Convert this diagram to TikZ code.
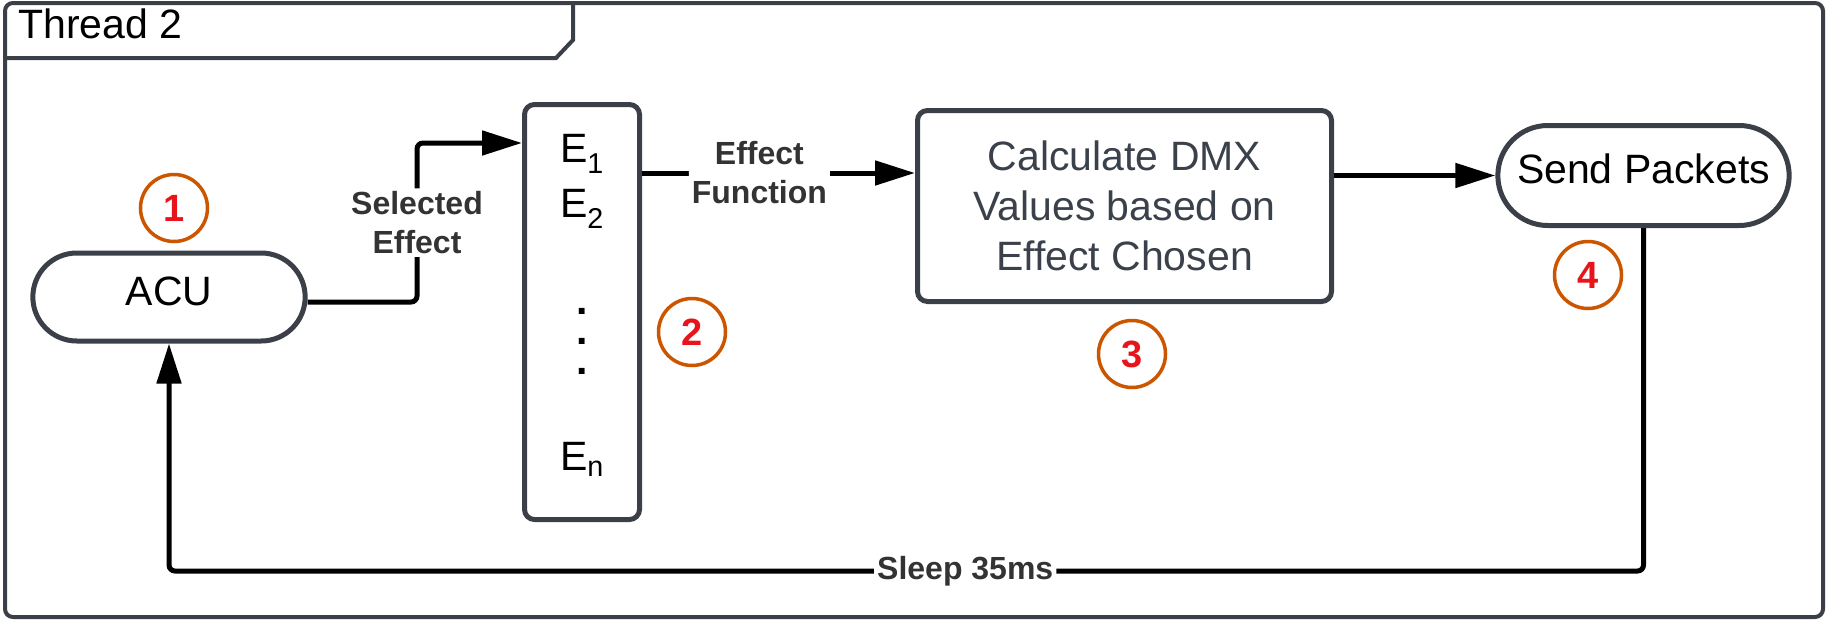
\documentclass[tikz,border=0pt]{standalone}
\usepackage{fontspec}
\setmainfont{Liberation Sans}
\usetikzlibrary{positioning,calc,arrows.meta,shapes.misc}

\definecolor{shapegray}{HTML}{3B4048}
\definecolor{textgray}{HTML}{3A414A}
\definecolor{markorange}{HTML}{CC5500}
\definecolor{markred}{HTML}{E8141C}
\definecolor{labelgray}{HTML}{333333}

\tikzset{
  frame/.style={draw=shapegray, line width=4pt},
  bigfont/.style={font=\fontsize{41}{50}\selectfont},
  terminal/.style={rounded rectangle, draw=shapegray, line width=5pt, bigfont,
    text height=30pt, text depth=14pt},
  process/.style={rectangle, rounded corners=10pt, draw=shapegray, line width=5pt},
  marker/.style={circle, draw=markorange, line width=3.5pt, minimum size=67pt,
    inner sep=0pt, text=markred, font=\fontsize{38}{44}\selectfont\bfseries},
  flow/.style={-{Triangle[length=40pt,width=24pt]}, line width=5pt, rounded corners=6pt},
  flowlabel/.style={fill=white, text=labelgray, align=center, inner sep=3pt,
    font=\fontsize{32}{39}\selectfont\bfseries},
}

\begin{document}
\begin{tikzpicture}[x=1pt, y=-1pt, on grid, node distance=100pt]
  \useasboundingbox (0,0) rectangle (1828,621);
  % thread frame and its tab
  \draw[frame, rounded corners=8pt] (5,3) rectangle (1823,617);
  \draw[frame] (5,58) -- (556,58) -- (573,40) -- (573,3);
  \node[bigfont, anchor=base west, inner sep=0pt] (title) at (18,38) {Thread 2};

  \node[terminal, minimum width=279pt, minimum height=88pt] (acu) at (169,297) {ACU};%
  \node[process, minimum width=115pt, minimum height=415pt] (effects)
    [below right=15pt and 413pt of acu] {};%
  \node[process, bigfont, text=textgray, align=center, minimum width=414pt,
    minimum height=191pt] (calc) [above right=106pt and 542.5pt of effects]
    {Calculate DMX\\Values based on\\Effect Chosen};%
  \node[terminal, minimum width=298pt, minimum height=100pt] (send)
    [above right=30.5pt and 519pt of calc] {Send Packets};%

  % effect list
  \node[bigfont, anchor=base] (e1) at (582,162) {E\textsubscript{1}};%
  \node[bigfont, anchor=base] (e2) at (582,217) {E\textsubscript{2}};%
  \node[font=\fontsize{41}{30}\selectfont\bfseries, align=center, inner sep=0pt]
    (dots) at (582,341) {.\\.\\.};%
  \node[bigfont, anchor=base] (en) at (582,470) {E\textsubscript{n}};%

  % step markers
  \node[marker] (m1) [above=89pt of acu, xshift=5pt] {1};%
  \node[marker] (m2) [below right=20pt and 110pt of effects] {2};%
  \node[marker] (m3) [below right=148pt and 7.5pt of calc] {3};%
  \node[marker] (m4) [below left=99.5pt and 55.5pt of send] {4};%

  % connectors
  \coordinate (selbend) at (417,143);
  \coordinate (fnrow) at (0,173);
  \draw[flow] ([yshift=-5pt]acu.east) -| node[flowlabel, pos=0.75] {Selected\\Effect}
    (selbend) -- (selbend -| effects.west);
  \draw[flow] (effects.east |- fnrow) -- node[flowlabel, pos=0.43] {Effect\\Function}
    (calc.west |- fnrow);
  \draw[flow] (calc.east |- send.west) -- (send.west);
  \draw[flow] (send.south) -- ++(0,343) -| node[flowlabel, pos=0.23] {Sleep 35ms}
    (acu.south);
\end{tikzpicture}
\end{document}
